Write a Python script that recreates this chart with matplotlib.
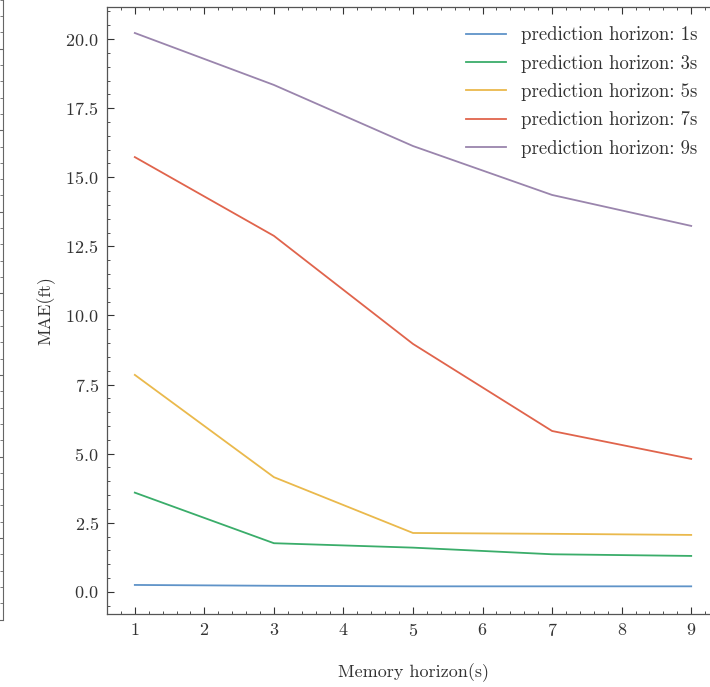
import matplotlib
matplotlib.use("Agg")
import matplotlib.pyplot as plt
from matplotlib.ticker import AutoMinorLocator, MultipleLocator

plt.rcParams["font.family"] = "cmr10"
plt.rcParams["mathtext.fontset"] = "cm"
plt.rcParams["axes.unicode_minus"] = False
plt.rcParams["axes.formatter.use_mathtext"] = True

# memory horizon (s) on x, MAE (ft) per prediction horizon
memory_horizon = [1, 3, 5, 7, 9]
mae_1s = [0.25, 0.22, 0.20, 0.20, 0.20]
mae_3s = [3.59, 1.76, 1.60, 1.36, 1.30]
mae_5s = [7.85, 4.15, 2.13, 2.10, 2.06]
mae_7s = [15.73, 12.88, 8.97, 5.82, 4.81]
mae_9s = [20.22, 18.34, 16.13, 14.36, 13.24]

labels = ["prediction horizon: 1s", "prediction horizon: 3s",
          "prediction horizon: 5s", "prediction horizon: 7s",
          "prediction horizon: 9s"]
colors = ["#5f93c8", "#3aad6a", "#eab94c", "#e0644c", "#9a85ad"]
series = [mae_1s, mae_3s, mae_5s, mae_7s, mae_9s]

fig = plt.figure(figsize=(7.1, 6.87), dpi=100)

# right edge of a neighbouring panel, cut off at the left border
ax0 = fig.add_axes([-0.2, 0.098, 0.2042, 0.95])
for s in ["left", "top", "bottom"]:
    ax0.spines[s].set_visible(False)
ax0.spines["right"].set_color("#666666")
ax0.spines["right"].set_linewidth(0.8)
ax0.set_xticks([])
ax0.yaxis.tick_right()
ax0.set_ylim(0, 8)
ax0.yaxis.set_major_locator(MultipleLocator(1))
ax0.yaxis.set_minor_locator(AutoMinorLocator(5))
ax0.tick_params(axis="y", which="both", direction="in", labelright=False,
                color="#666666")
ax0.tick_params(axis="y", which="major", length=5, width=0.8)
ax0.tick_params(axis="y", which="minor", length=2.5, width=0.6)

ax = fig.add_axes([0.1507, 0.1063, 0.862, 0.8835])
for y, lab, c in zip(series, labels, colors):
    ax.plot(memory_horizon, y, color=c, lw=1.3, label=lab)

ax.set_ylim(-0.8, 21.16)
ax.set_xlim(0.6, 9.4)
ax.xaxis.set_major_locator(MultipleLocator(1))
ax.xaxis.set_minor_locator(AutoMinorLocator(5))
ax.yaxis.set_major_locator(MultipleLocator(2.5))
ax.yaxis.set_minor_locator(AutoMinorLocator(5))
ax.tick_params(which="both", direction="in", top=True, right=True,
               labelsize=13, colors="#333333")
ax.tick_params(which="major", length=5, width=0.8, pad=6)
ax.tick_params(which="minor", length=2.5, width=0.6)
for s in ax.spines.values():
    s.set_linewidth(0.9)
    s.set_color("#555555")

ax.set_xlabel("Memory horizon(s)", fontsize=13, labelpad=17, color="#333333")
ax.set_ylabel("MAE(ft)", fontsize=13, labelpad=7, color="#333333")

ax.legend(loc="upper right", bbox_to_anchor=(0.992, 0.996), frameon=False,
          fontsize=13.5, handlelength=2.1, handletextpad=0.8,
          labelspacing=0.55, labelcolor="#333333")

fig.savefig("out.png", dpi=100)
